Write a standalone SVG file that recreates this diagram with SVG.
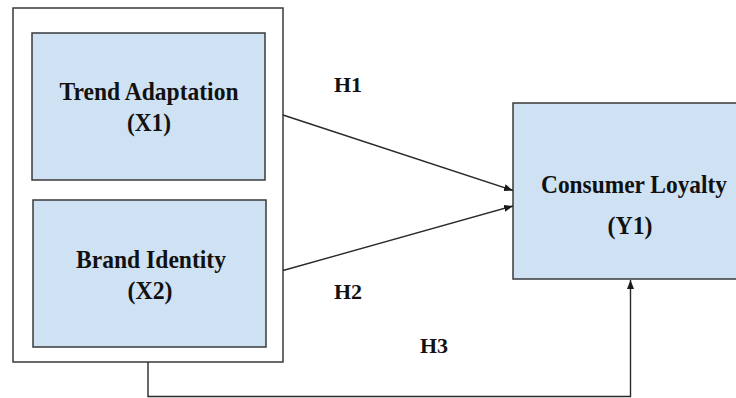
<svg xmlns="http://www.w3.org/2000/svg" width="736" height="398" viewBox="0 0 736 398">
<defs>
<style>
.box{fill:#cfe2f3;stroke:#3a3a3a;stroke-width:1.5}
.outer{fill:#ffffff;stroke:#3a3a3a;stroke-width:1.5}
.lbl{font-family:"Liberation Serif","Times New Roman",serif;font-weight:bold;font-size:25px;fill:#111;text-anchor:middle}
.hl{font-family:"Liberation Serif","Times New Roman",serif;font-weight:bold;font-size:22px;fill:#111}
.con{fill:none;stroke:#2a2a2a;stroke-width:1.4}
</style>
<marker id="ah" markerWidth="10" markerHeight="8" refX="9" refY="4" orient="auto" markerUnits="userSpaceOnUse">
<path d="M0,0.5 L9,4 L0,7.5 z" fill="#1a1a1a"/>
</marker>
</defs>
<rect width="736" height="398" fill="#ffffff"/>
<g id="group-x">
<rect class="outer" x="13" y="8" width="270" height="354"/>
</g>
<g id="trend-adaptation">
<rect class="box" x="32" y="33" width="233" height="147"/>
<text class="lbl" x="149" y="100" textLength="179" lengthAdjust="spacingAndGlyphs">Trend Adaptation</text>
<text class="lbl" x="149" y="131" textLength="44" lengthAdjust="spacingAndGlyphs">(X1)</text>
</g>
<g id="brand-identity">
<rect class="box" x="33" y="200" width="233" height="147"/>
<text class="lbl" x="151" y="268" textLength="150" lengthAdjust="spacingAndGlyphs">Brand Identity</text>
<text class="lbl" x="150" y="299" textLength="45" lengthAdjust="spacingAndGlyphs">(X2)</text>
</g>
<g id="consumer-loyalty">
<rect class="box" x="513" y="103" width="240" height="176"/>
<text class="lbl" x="634" y="193" textLength="186" lengthAdjust="spacingAndGlyphs">Consumer Loyalty</text>
<text class="lbl" x="630" y="234" textLength="45" lengthAdjust="spacingAndGlyphs">(Y1)</text>
</g>
<g id="connectors">
<line class="con" x1="283" y1="115" x2="513" y2="190.5" marker-end="url(#ah)"/>
<line class="con" x1="283" y1="270.5" x2="513" y2="206" marker-end="url(#ah)"/>
<polyline class="con" points="148,362 148,396.5 630.5,396.5 630.5,280" marker-end="url(#ah)"/>
</g>
<g id="labels">
<text class="hl" x="334" y="92">H1</text>
<text class="hl" x="334" y="299">H2</text>
<text class="hl" x="420" y="353">H3</text>
</g>
</svg>
